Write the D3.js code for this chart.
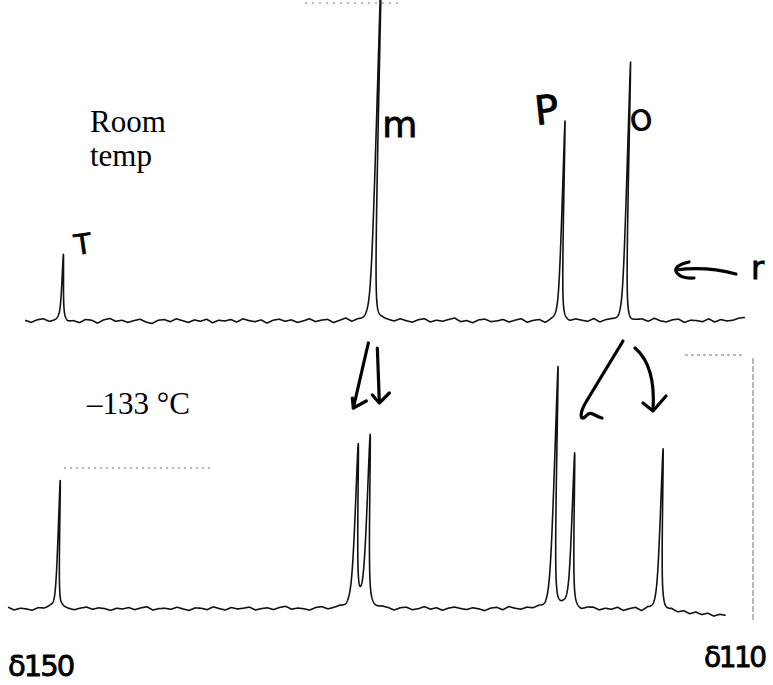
<!DOCTYPE html>
<html><head><meta charset="utf-8">
<script src="https://cdn.jsdelivr.net/npm/d3@7"></script>
<style>html,body{margin:0;padding:0;background:#fff;overflow:hidden}</style>
</head><body>
<script>
// ---- data (chemical shift in ppm, intensity in arbitrary units) ----
const axisLabels = ["δ150", "δ110"];
const panelLabels = [["Room", "temp"], ["–133 °C"]];
const topPeakLabels = ["T", "m", "P", "O"];
const topPeakShift = [147.44, 130.42, 120.14, 116.63];
const topPeakHeight = [24.9, 140, 77.4, 100];
const topPeakWidth = [0.05, 0.055, 0.05, 0.05];
const topExtent = [149.45, 110.0];
const botPeakShift = [147.70, 131.42, 130.78, 120.58, 119.55, 114.71];
const botPeakHeight = [50.2, 63, 66.5, 93.8, 60.3, 62.6];
const botPeakWidth = [0.05, 0.085, 0.085, 0.07, 0.07, 0.07];
const botExtent = [150.38, 111.04];
const topNoise = [0.2,-0.4,0.3,0.6,-0.2,0.1,0.8,-0.3,0.0,-0.5,0.4,0.2,-0.6,0.3,0.7,-0.1,0.2,-0.4,0.1,0.5,-0.3,-0.7,0.2,0.4,-0.2,0.6,0.1,-0.4,0.3,-0.1,0.5,-0.5,0.2,0.0,0.4,-0.3,0.6,0.1,-0.2,0.3,-0.6,0.2,0.5,-0.1,0.3,-0.4,0.0,0.6,-0.2,0.2,0.4,-0.5,0.1,0.7,-0.3,0.2,-0.1,0.4,-0.6,0.3,0.1,-0.2,0.5,0.0,-0.4,0.3,0.6,-0.3,0.2,-0.1,0.4,0.8,-0.2,0.1,-0.5,0.3,0.5,-0.2,0.0,0.4,-0.3,0.2,0.6,-0.4,0.1,0.3,-0.6,0.2,0.5,0.0,-0.3,0.4,0.1,-0.2,0.6,-0.4,0.2,0.3,-0.1,0.5,-0.5,0.1,0.4,-0.2,0.7,0.0,-0.3,0.3,0.5,-0.4,0.2,0.1,-0.2,0.6,-0.3,0.4,0.0,0.2,0.8,1.0];
const botNoise = [0.5,-0.3,0.2,0.0,-0.4,0.3,0.1,0.6,-0.2,0.4,0.0,-0.3,0.2,0.5,-0.1,0.3,0.1,-0.4,0.2,0.0,0.4,-0.2,0.3,0.6,-0.3,0.1,0.2,-0.1,0.5,0.0,-0.4,0.3,0.2,-0.2,0.6,0.1,-0.3,0.4,0.0,0.2,0.5,-0.3,0.1,0.3,-0.2,0.4,0.7,-0.1,0.2,0.0,-0.4,0.3,0.5,-0.2,0.1,0.4,-0.3,0.2,0.0,0.5,-0.4,-0.2,0.3,0.1,-0.5,0.2,0.4,-0.3,0.0,0.6,-0.1,0.3,-0.4,0.2,0.5,0.1,-0.2,0.3,0.0,-0.5,0.2,0.4,-0.3,0.6,0.1,-0.2,0.3,0.0,0.4,-0.4,0.2,-0.1,0.5,0.1,-0.3,-0.6,0.2,0.3,-0.4,0.1,-0.2,0.4,-0.5,0.0,0.3,-0.7,0.1,-0.4,-0.2,-0.8,-0.3,-1.0,-0.6,-1.4,-0.9,-1.6,-1.2,-2.0,-1.5,-1.8];

const W = 773, H = 685;
const svg = d3.select("body").append("svg").attr("width", W).attr("height", H)
  .style("font-family", "'Liberation Serif', serif");

const x = d3.scaleLinear().domain([150, 110]).range([15, 745]);
const yTop = d3.scaleLinear().domain([0, 100]).range([321, 64]);
const yBot = d3.scaleLinear().domain([0, 100]).range([609, 352]);

function trace(shifts, heights, widths, extent, noise) {
  const n = noise.length;
  const noiseX = d3.scaleLinear().domain([0, n - 1]).range(extent);
  const noiseAt = d3.scaleLinear().domain(noise.map((_, i) => noiseX(i))).range(noise);
  const pxStep = 0.2;
  const total = Math.abs(x(extent[1]) - x(extent[0]));
  const samples = d3.range(0, total + 0.001, pxStep).map(p => x.invert(x(extent[0]) + p));
  shifts.forEach(s => samples.push(s));
  samples.sort((a, b) => b - a);
  return samples.map(s => {
    let v = noiseAt(s) * 1.4;
    shifts.forEach((c, i) => {
      const w = widths[i];
      v += heights[i] * w * w / (w * w + (s - c) * (s - c));
    });
    return [s, v];
  });
}

function drawTrace(data, yS) {
  const y0 = yS(0);
  const g = svg.append("g")
    .attr("transform", `translate(0,${y0}) skewX(-1.45) translate(0,${-y0})`);
  g.append("path")
    .datum(data)
    .attr("d", d3.line().x(d => x(d[0])).y(d => yS(d[1])))
    .attr("fill", "none").attr("stroke", "#111").attr("stroke-width", 1.6)
    .attr("stroke-linejoin", "round");
}

drawTrace(trace(topPeakShift, topPeakHeight, topPeakWidth, topExtent, topNoise), yTop);
drawTrace(trace(botPeakShift, botPeakHeight, botPeakWidth, botExtent, botNoise), yBot);

// scan artifacts (faint dotted lines)
const art = svg.append("g").attr("stroke", "#777").attr("stroke-width", 1).attr("fill", "none");
art.append("line").attr("x1", 64).attr("x2", 210).attr("y1", 468).attr("y2", 468).attr("stroke-dasharray", "2,4");
art.append("line").attr("x1", 305).attr("x2", 400).attr("y1", 3).attr("y2", 3).attr("stroke-dasharray", "2,5");
art.append("line").attr("x1", 685).attr("x2", 745).attr("y1", 355).attr("y2", 355).attr("stroke-dasharray", "3,3");
art.append("line").attr("x1", 753).attr("x2", 753).attr("y1", 358).attr("y2", 622).attr("stroke-dasharray", "6,2");

// printed labels
svg.append("text").attr("x", 90).attr("y", 132).attr("font-size", 31).attr("fill", "#000").text(panelLabels[0][0]);
svg.append("text").attr("x", 90).attr("y", 166).attr("font-size", 31).attr("fill", "#000").text(panelLabels[0][1]);
svg.append("text").attr("x", 87).attr("y", 414).attr("font-size", 31).attr("fill", "#000").text(panelLabels[1][0]);

// handwritten annotations
const hand = svg.append("g").style("font-family", "'DejaVu Sans', sans-serif")
  .attr("fill", "#000").attr("stroke", "#000").attr("stroke-width", 0.8);
const lblOffsets = [[14, 255, 28, -8], [10, 137, 36, 0], [-24, 125, 40, -6], [8, 132, 28, -10]];
topPeakLabels.forEach((t, i) => {
  const o = lblOffsets[i];
  const px = x(topPeakShift[i]) + o[0];
  hand.append("text").attr("x", px).attr("y", o[1]).attr("font-size", o[2])
    .attr("transform", `rotate(${o[3]},${px},${o[1]})`).text(t);
});
hand.append("text").attr("x", 751).attr("y", 279).attr("font-size", 32).text("r");
hand.append("text").attr("x", 8).attr("y", 676).attr("font-size", 29).attr("letter-spacing", -2).text(axisLabels[0]);
hand.append("text").attr("x", 704).attr("y", 667).attr("font-size", 28).attr("letter-spacing", -2.5).text(axisLabels[1]);

const arrows = svg.append("g").attr("fill", "none").attr("stroke", "#000")
  .attr("stroke-width", 3.2).attr("stroke-linecap", "round").attr("stroke-linejoin", "round");
// r arrow
arrows.append("path").attr("d", "M736,274 Q706,266 676,270");
arrows.append("path").attr("d", "M689,262 Q672,266 677,273 Q682,279 694,278");
// m splitting arrows
const mx = x(topPeakShift[1]);
arrows.append("path").attr("d", `M${mx - 4},343 L${mx - 19},408`);
arrows.append("path").attr("d", `M${mx - 20},398 L${mx - 19},408 L${mx - 6},401`);
arrows.append("path").attr("d", `M${mx + 5},348 L${mx + 7},402`);
arrows.append("path").attr("d", `M${mx},395 L${mx + 7},403 L${mx + 17},393`);
// o splitting arrows
const ox = x(topPeakShift[3]);
arrows.append("path").attr("d", `M${ox - 1},341 L${ox - 38},402 C${ox - 45},414 ${ox - 44},422 ${ox - 38},416 C${ox - 33},410 ${ox - 30},416 ${ox - 22},418`);
arrows.append("path").attr("d", `M${ox + 11},348 Q${ox + 32},366 ${ox + 29},410`);
arrows.append("path").attr("d", `M${ox + 19},403 L${ox + 29},411 L${ox + 42},396`);
</script>
</body></html>
